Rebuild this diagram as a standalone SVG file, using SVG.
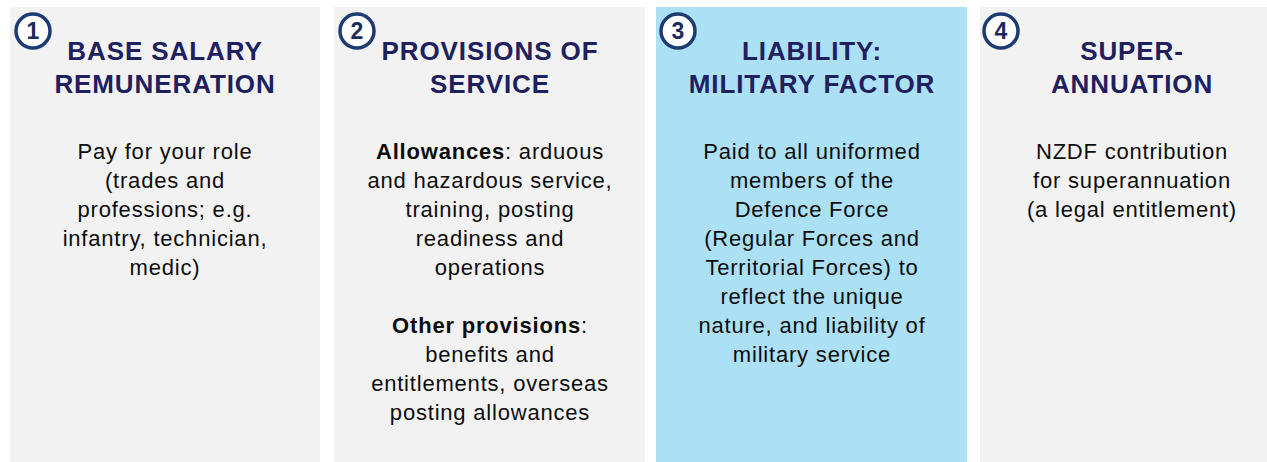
<svg xmlns="http://www.w3.org/2000/svg" width="1267" height="462" viewBox="0 0 1267 462">
  <style>
    .panel { fill: #f2f2f2; }
    .panel.hl { fill: #abe0f5; }
    .badge { fill: #ffffff; stroke: #1b3b72; stroke-width: 3.5; }
    .num { font-family: "Liberation Sans", Arial, sans-serif; font-weight: bold; font-size: 23px; fill: #1b2a5e; text-anchor: middle; }
    .title { font-family: "Liberation Sans", Arial, sans-serif; font-weight: bold; font-size: 26px; letter-spacing: 0.9px; fill: #1f205e; text-anchor: middle; }
    .body { font-family: "Liberation Sans", Arial, sans-serif; font-size: 22px; letter-spacing: 0.8px; fill: #0d0d0d; text-anchor: middle; }
    .b { font-weight: bold; }
  </style>
  <rect width="1267" height="462" fill="#ffffff"/>

  <!-- Column 1 -->
  <g id="base-salary">
    <rect class="panel" x="10" y="7" width="310" height="455"/>
    <circle class="badge" cx="33" cy="31" r="17"/>
    <text class="num" x="33" y="39">1</text>
    <text class="title" x="165" y="60">BASE SALARY</text>
    <text class="title" x="165" y="93">REMUNERATION</text>
    <text class="body" x="165" y="159">Pay for your role</text>
    <text class="body" x="165" y="188">(trades and</text>
    <text class="body" x="165" y="217">professions; e.g.</text>
    <text class="body" x="165" y="246">infantry, technician,</text>
    <text class="body" x="165" y="275">medic)</text>
  </g>

  <!-- Column 2 -->
  <g id="provisions">
    <rect class="panel" x="334" y="7" width="311" height="455"/>
    <circle class="badge" cx="357" cy="31" r="17"/>
    <text class="num" x="357" y="39">2</text>
    <text class="title" x="490" y="60">PROVISIONS OF</text>
    <text class="title" x="490" y="93">SERVICE</text>
    <text class="body" x="490" y="159"><tspan class="b">Allowances</tspan>: arduous</text>
    <text class="body" x="490" y="188">and hazardous service,</text>
    <text class="body" x="490" y="217">training, posting</text>
    <text class="body" x="490" y="246">readiness and</text>
    <text class="body" x="490" y="275">operations</text>
    <text class="body" x="490" y="333"><tspan class="b">Other provisions</tspan>:</text>
    <text class="body" x="490" y="362">benefits and</text>
    <text class="body" x="490" y="391">entitlements, overseas</text>
    <text class="body" x="490" y="420">posting allowances</text>
  </g>

  <!-- Column 3 (highlighted) -->
  <g id="military-factor">
    <rect class="panel hl" x="656" y="7" width="311" height="455"/>
    <circle class="badge" cx="678" cy="31" r="17"/>
    <text class="num" x="678" y="39">3</text>
    <text class="title" x="812" y="60">LIABILITY:</text>
    <text class="title" x="812" y="93">MILITARY FACTOR</text>
    <text class="body" x="812" y="159">Paid to all uniformed</text>
    <text class="body" x="812" y="188">members of the</text>
    <text class="body" x="812" y="217">Defence Force</text>
    <text class="body" x="812" y="246">(Regular Forces and</text>
    <text class="body" x="812" y="275">Territorial Forces) to</text>
    <text class="body" x="812" y="304">reflect the unique</text>
    <text class="body" x="812" y="333">nature, and liability of</text>
    <text class="body" x="812" y="362">military service</text>
  </g>

  <!-- Column 4 -->
  <g id="superannuation">
    <rect class="panel" x="980" y="7" width="287" height="455"/>
    <circle class="badge" cx="1001" cy="31" r="17"/>
    <text class="num" x="1001" y="39">4</text>
    <text class="title" x="1132" y="60">SUPER-</text>
    <text class="title" x="1132" y="93">ANNUATION</text>
    <text class="body" x="1132" y="159">NZDF contribution</text>
    <text class="body" x="1132" y="188">for superannuation</text>
    <text class="body" x="1132" y="217">(a legal entitlement)</text>
  </g>

  <!-- no connectors in this layout -->
  <g id="connectors"/>
</svg>
